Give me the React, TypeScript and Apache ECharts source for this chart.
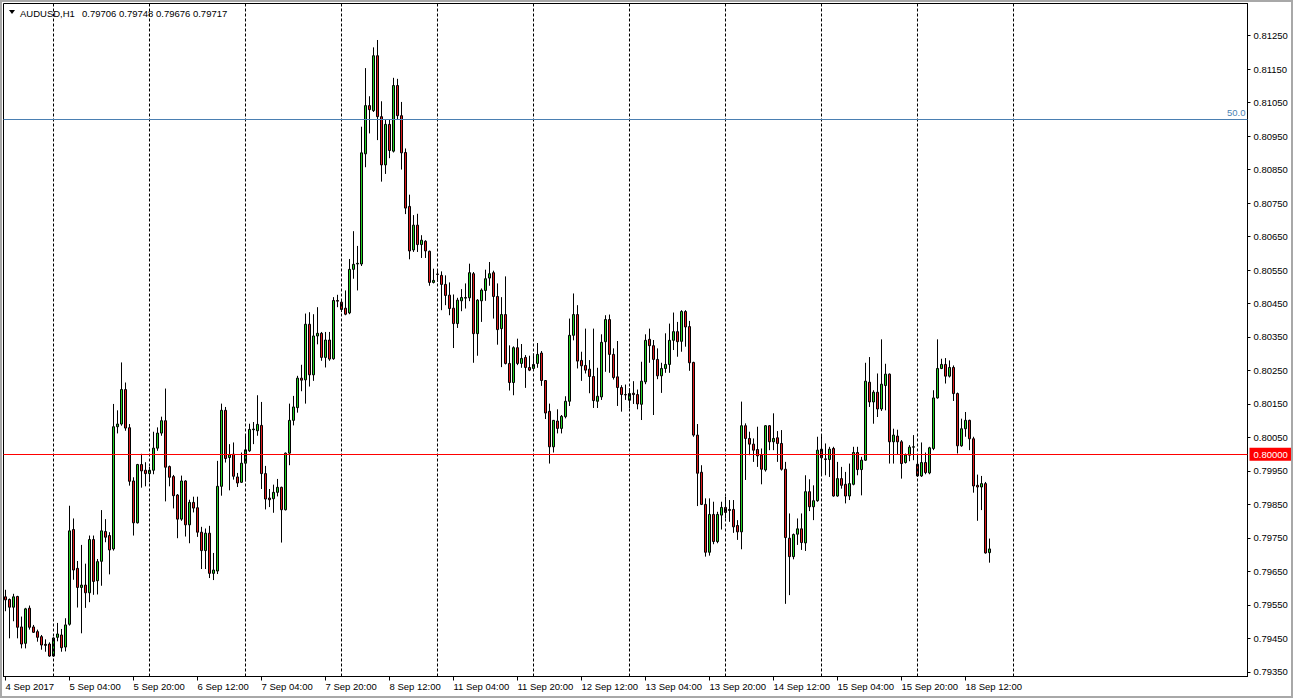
import React, { useEffect, useRef } from "react";
import * as echarts from "echarts";

const symbolName = "AUDUSD,H1";
const firstLabel = "4 Sep 2017";
const sessionDays = ["4 Sep", "5 Sep", "6 Sep", "7 Sep", "8 Sep", "11 Sep", "12 Sep", "13 Sep", "14 Sep", "15 Sep", "18 Sep", "19 Sep", "20 Sep", "21 Sep"];
const firstHour = 12;
const totalSlots = 311;
const labelEvery = 16;
const gridLines = ["5 Sep 00:00", "6 Sep 00:00", "7 Sep 00:00", "8 Sep 00:00", "11 Sep 00:00", "12 Sep 00:00", "13 Sep 00:00", "14 Sep 00:00", "15 Sep 00:00", "18 Sep 00:00", "19 Sep 00:00"];

const opens = [
  0.79574, 0.79566, 0.79543, 0.79575, 0.79484, 0.79435, 0.7954, 0.79484, 0.7947, 0.79455, 0.79432, 0.79433, 0.79397, 0.79453, 0.7946, 0.79424,
  0.79492, 0.79775, 0.79659, 0.79602, 0.79609, 0.79586, 0.79745, 0.79622, 0.7968, 0.79769, 0.79757, 0.79717, 0.80082, 0.8009, 0.80193, 0.80079,
  0.7992, 0.79795, 0.79969, 0.79952, 0.79942, 0.79952, 0.80018, 0.80063, 0.801, 0.79963, 0.79933, 0.79878, 0.79806, 0.7992, 0.79789, 0.79856,
  0.7984, 0.79767, 0.79712, 0.79764, 0.79644, 0.79651, 0.79904, 0.80131, 0.7999, 0.8, 0.79932, 0.79916, 0.79973, 0.8001, 0.80073, 0.8007,
  0.80086, 0.79942, 0.79869, 0.79867, 0.79886, 0.79901, 0.79834, 0.80003, 0.80101, 0.80139, 0.80227, 0.80222, 0.80388, 0.80237, 0.80353, 0.80361,
  0.80289, 0.80341, 0.80285, 0.80459, 0.80454, 0.80436, 0.80422, 0.80552, 0.80568, 0.80568, 0.80897, 0.81041, 0.81026, 0.8119, 0.81008, 0.80864,
  0.80985, 0.80905, 0.81101, 0.81011, 0.80901, 0.8074, 0.8061, 0.80684, 0.80626, 0.80636, 0.80606, 0.80513, 0.80538, 0.80534, 0.80507, 0.80475,
  0.80436, 0.8039, 0.80458, 0.80466, 0.80467, 0.80539, 0.8036, 0.80458, 0.80489, 0.80526, 0.80542, 0.80471, 0.80375, 0.80417, 0.80271, 0.80214,
  0.80318, 0.80271, 0.80289, 0.80259, 0.80256, 0.80271, 0.80302, 0.8022, 0.80128, 0.80022, 0.80099, 0.80077, 0.80112, 0.80158, 0.80355, 0.80417,
  0.8028, 0.80265, 0.80254, 0.80232, 0.80158, 0.80171, 0.80336, 0.80402, 0.80298, 0.80231, 0.80199, 0.80178, 0.80161, 0.80182, 0.80178, 0.80149,
  0.80216, 0.80343, 0.80324, 0.80283, 0.80234, 0.80256, 0.80268, 0.8034, 0.80366, 0.80337, 0.80426, 0.80381, 0.80274, 0.80057, 0.79946, 0.7985,
  0.79707, 0.7982, 0.79739, 0.79818, 0.79841, 0.79835, 0.79835, 0.79787, 0.79768, 0.80085, 0.80047, 0.8003, 0.80014, 0.79997, 0.79953, 0.80085,
  0.80037, 0.80049, 0.80032, 0.79955, 0.79749, 0.79694, 0.79761, 0.79777, 0.79735, 0.79888, 0.79843, 0.79861, 0.80015, 0.79986, 0.79984, 0.80017,
  0.79875, 0.79927, 0.7991, 0.79875, 0.7991, 0.80005, 0.79954, 0.79982, 0.80215, 0.80156, 0.80185, 0.80135, 0.80205, 0.80239, 0.80037, 0.80054,
  0.80037, 0.79975, 0.79997, 0.80021, 0.7997, 0.79935, 0.79975, 0.79944, 0.80017, 0.80168, 0.80256, 0.80268, 0.80233, 0.80259, 0.80181, 0.80025,
  0.80076, 0.80101, 0.80046, 0.79907, 0.79902, 0.79912, 0.79706
];
const highs = [
  0.79595, 0.79569, 0.79583, 0.79577, 0.79515, 0.79541, 0.79548, 0.7949, 0.79476, 0.7946, 0.79447, 0.79438, 0.79453, 0.79496, 0.79478, 0.7951,
  0.79846, 0.79808, 0.79681, 0.79729, 0.79673, 0.79757, 0.79757, 0.79687, 0.79833, 0.79806, 0.79767, 0.8015, 0.80131, 0.80274, 0.80214, 0.8009,
  0.79931, 0.79971, 0.80001, 0.79976, 0.79962, 0.80067, 0.8008, 0.80112, 0.80196, 0.79966, 0.79938, 0.79881, 0.79936, 0.79922, 0.79864, 0.79873,
  0.79873, 0.79783, 0.79778, 0.79786, 0.79705, 0.7998, 0.80151, 0.80141, 0.8003, 0.80035, 0.79944, 0.80005, 0.80055, 0.80091, 0.80096, 0.80176,
  0.80156, 0.79965, 0.79896, 0.79909, 0.79926, 0.79903, 0.80005, 0.80151, 0.80174, 0.80234, 0.80267, 0.8042, 0.80424, 0.80418, 0.80439, 0.80365,
  0.80365, 0.80365, 0.80469, 0.80476, 0.80459, 0.80489, 0.80583, 0.80666, 0.80622, 0.80978, 0.81153, 0.81069, 0.81215, 0.81237, 0.81054, 0.80998,
  0.80998, 0.81124, 0.81121, 0.81052, 0.80913, 0.80775, 0.80714, 0.80718, 0.80654, 0.80639, 0.80608, 0.80554, 0.80549, 0.80546, 0.80534, 0.80513,
  0.80477, 0.80467, 0.80493, 0.8051, 0.80569, 0.80544, 0.80463, 0.80495, 0.80551, 0.80574, 0.80548, 0.8051, 0.80469, 0.80531, 0.80325, 0.80322,
  0.80345, 0.80329, 0.80296, 0.80294, 0.80301, 0.80332, 0.80308, 0.80221, 0.80151, 0.80102, 0.80134, 0.80117, 0.80173, 0.80405, 0.8048, 0.80445,
  0.80306, 0.80375, 0.80281, 0.80375, 0.80258, 0.80358, 0.80415, 0.80417, 0.80316, 0.80338, 0.80206, 0.80208, 0.80197, 0.80218, 0.80193, 0.80276,
  0.80358, 0.80375, 0.80341, 0.80316, 0.80273, 0.80361, 0.8039, 0.80423, 0.80395, 0.8043, 0.8043, 0.80398, 0.80276, 0.8009, 0.79967, 0.79868,
  0.79868, 0.79858, 0.79828, 0.79858, 0.79873, 0.79863, 0.79863, 0.79803, 0.80157, 0.80092, 0.80067, 0.80047, 0.80082, 0.80017, 0.80087, 0.80087,
  0.80122, 0.80069, 0.80072, 0.79977, 0.79823, 0.79763, 0.79808, 0.79823, 0.79937, 0.79925, 0.79907, 0.80052, 0.80054, 0.80032, 0.80022, 0.80022,
  0.79977, 0.79962, 0.79947, 0.79972, 0.80022, 0.80022, 0.79992, 0.80273, 0.8029, 0.80191, 0.80241, 0.80343, 0.8027, 0.80241, 0.80076, 0.80073,
  0.80042, 0.80002, 0.80027, 0.80057, 0.79997, 0.80035, 0.80005, 0.80022, 0.80191, 0.80343, 0.80285, 0.80287, 0.8028, 0.80265, 0.80184, 0.80106,
  0.80126, 0.80103, 0.80052, 0.79939, 0.79935, 0.79917, 0.79748
];
const lows = [
  0.79531, 0.7945, 0.79501, 0.7945, 0.7942, 0.7942, 0.79476, 0.79466, 0.7944, 0.79416, 0.7941, 0.79395, 0.79395, 0.79441, 0.7941, 0.79411,
  0.79488, 0.79625, 0.79542, 0.79465, 0.79541, 0.79558, 0.7958, 0.79581, 0.79607, 0.79737, 0.79641, 0.79712, 0.80062, 0.80085, 0.8007, 0.79906,
  0.79757, 0.79793, 0.799, 0.79904, 0.79916, 0.7994, 0.8001, 0.80055, 0.79859, 0.79904, 0.79838, 0.79749, 0.79801, 0.79754, 0.79734, 0.79826,
  0.79753, 0.79657, 0.79657, 0.7963, 0.79624, 0.79642, 0.79876, 0.79975, 0.79892, 0.79924, 0.79902, 0.79914, 0.79919, 0.80007, 0.8003, 0.80055,
  0.79896, 0.79835, 0.79842, 0.79825, 0.79874, 0.79736, 0.79832, 0.79967, 0.80086, 0.80124, 0.80188, 0.80151, 0.80202, 0.80219, 0.80328, 0.80279,
  0.80259, 0.80279, 0.80282, 0.80439, 0.80424, 0.80415, 0.80418, 0.80524, 0.80489, 0.80562, 0.80857, 0.80958, 0.81022, 0.80938, 0.80814, 0.80837,
  0.80884, 0.80901, 0.80998, 0.8085, 0.80717, 0.80582, 0.80604, 0.80604, 0.80586, 0.80586, 0.80503, 0.8051, 0.80515, 0.8043, 0.80445, 0.80415,
  0.80317, 0.80377, 0.80427, 0.80435, 0.80457, 0.80273, 0.80294, 0.80395, 0.80458, 0.80503, 0.80405, 0.80327, 0.8026, 0.80268, 0.8019, 0.80176,
  0.80266, 0.80258, 0.80198, 0.80248, 0.80253, 0.80258, 0.80204, 0.80105, 0.79972, 0.80005, 0.80062, 0.80062, 0.80107, 0.80144, 0.8034, 0.80256,
  0.80219, 0.80241, 0.80182, 0.80138, 0.80138, 0.80162, 0.80246, 0.80243, 0.80223, 0.80144, 0.80127, 0.80162, 0.80137, 0.8015, 0.80134, 0.80102,
  0.80209, 0.80273, 0.80117, 0.80224, 0.80183, 0.80243, 0.80243, 0.80311, 0.80291, 0.80306, 0.80321, 0.80249, 0.80052, 0.79845, 0.79848, 0.79694,
  0.79697, 0.79731, 0.79734, 0.79775, 0.79808, 0.79798, 0.79765, 0.79744, 0.79716, 0.79923, 0.79997, 0.79977, 0.79962, 0.7991, 0.79948, 0.80012,
  0.80012, 0.79977, 0.79951, 0.79553, 0.79579, 0.79686, 0.79729, 0.79714, 0.79711, 0.7983, 0.79803, 0.79858, 0.79939, 0.79937, 0.79932, 0.79873,
  0.79873, 0.79897, 0.79853, 0.79863, 0.79907, 0.79937, 0.79877, 0.7998, 0.80141, 0.80091, 0.80111, 0.80129, 0.80131, 0.79972, 0.79972, 0.79999,
  0.79927, 0.79972, 0.79979, 0.79982, 0.79932, 0.79932, 0.7994, 0.7994, 0.80012, 0.80166, 0.80254, 0.80211, 0.80229, 0.80159, 0.80002, 0.80022,
  0.80052, 0.80012, 0.79885, 0.79801, 0.79833, 0.79703, 0.79676
];
const closes = [
  0.79565, 0.79543, 0.79574, 0.79483, 0.79433, 0.79538, 0.79483, 0.79468, 0.79453, 0.7943, 0.79429, 0.79397, 0.79451, 0.79463, 0.79422, 0.7949,
  0.79771, 0.79654, 0.79602, 0.79609, 0.79586, 0.79745, 0.7962, 0.79679, 0.79771, 0.79752, 0.79714, 0.80082, 0.8009, 0.80193, 0.80078, 0.79919,
  0.79795, 0.79969, 0.7995, 0.79942, 0.79952, 0.80018, 0.80063, 0.801, 0.79961, 0.79931, 0.79876, 0.79806, 0.7992, 0.79789, 0.79856, 0.79839,
  0.79767, 0.79712, 0.79764, 0.79644, 0.79654, 0.79904, 0.80131, 0.79987, 0.79998, 0.79934, 0.79914, 0.79973, 0.80013, 0.80074, 0.80075, 0.80089,
  0.79942, 0.79866, 0.79864, 0.79886, 0.79901, 0.79834, 0.80003, 0.80101, 0.80141, 0.80227, 0.80221, 0.80388, 0.80237, 0.80353, 0.80361, 0.80289,
  0.80341, 0.80284, 0.80459, 0.80457, 0.80432, 0.80418, 0.80552, 0.80567, 0.8057, 0.809, 0.81041, 0.81029, 0.8119, 0.81008, 0.80864, 0.80985,
  0.80907, 0.81101, 0.81011, 0.809, 0.80735, 0.80607, 0.80684, 0.80626, 0.80639, 0.80607, 0.80513, 0.80519, 0.80537, 0.80507, 0.80474, 0.80435,
  0.8039, 0.8046, 0.80468, 0.80468, 0.80542, 0.8036, 0.8046, 0.8049, 0.80524, 0.80539, 0.80471, 0.80372, 0.80417, 0.80271, 0.80214, 0.80318,
  0.80271, 0.80286, 0.80259, 0.80251, 0.80268, 0.80298, 0.8022, 0.80123, 0.80022, 0.80101, 0.80077, 0.80113, 0.80158, 0.80355, 0.80417, 0.80278,
  0.80264, 0.80251, 0.80232, 0.8016, 0.80173, 0.80334, 0.80402, 0.80298, 0.80229, 0.80199, 0.80178, 0.80177, 0.80181, 0.80178, 0.8015, 0.80218,
  0.8034, 0.80324, 0.80283, 0.80234, 0.80256, 0.80268, 0.8034, 0.80366, 0.80336, 0.80426, 0.8038, 0.80273, 0.80057, 0.79943, 0.7985, 0.79707,
  0.7982, 0.79739, 0.7982, 0.79841, 0.79826, 0.79832, 0.79783, 0.79768, 0.80085, 0.80047, 0.8003, 0.80012, 0.79995, 0.79955, 0.80085, 0.80037,
  0.80047, 0.80032, 0.79955, 0.79751, 0.79694, 0.7976, 0.79777, 0.79736, 0.79888, 0.79843, 0.79861, 0.80012, 0.79989, 0.79984, 0.80015, 0.79875,
  0.79927, 0.79907, 0.79875, 0.79912, 0.80005, 0.79954, 0.79982, 0.80218, 0.80156, 0.80185, 0.80135, 0.80209, 0.80239, 0.80037, 0.80057, 0.80037,
  0.79972, 0.79997, 0.80021, 0.80022, 0.79935, 0.79975, 0.79945, 0.80019, 0.80168, 0.80256, 0.80268, 0.80233, 0.80259, 0.80181, 0.80025, 0.80076,
  0.80101, 0.80046, 0.79905, 0.79902, 0.79912, 0.79705, 0.79717
];

const yTickValues = [0.7935, 0.7945, 0.7955, 0.7965, 0.7975, 0.7985, 0.7995, 0.8005, 0.8015, 0.8025, 0.8035, 0.8045, 0.8055, 0.8065, 0.8075, 0.8085, 0.8095, 0.8105, 0.8115, 0.8125];
const yMin = 0.79336;
const yMax = 0.81346;
const levelLine = 0.8;
const fibLevel = 0.8099;
const fibLabel = "50.0";

const FONT = "'Liberation Sans', Arial, sans-serif";
const BULL = "#22d022";
const BEAR = "#dd1a1a";

const categories: string[] = [];
sessionDays.forEach((d, di) => {
  for (let h = di === 0 ? firstHour : 0; h < 24; h++) {
    categories.push(`${d} ${String(h).padStart(2, "0")}:00`);
  }
});
const slots = categories.slice(0, totalSlots);
const barCount = opens.length;
const showTick = (index: number) => index % labelEvery === 0 && index < barCount;

export default function App() {
  const ref = useRef<HTMLDivElement>(null);

  useEffect(() => {
    if (!ref.current) return;
    const chart = echarts.init(ref.current, undefined, { renderer: "svg" });
    const last = barCount - 1;
    const header = [opens[last], highs[last], lows[last], closes[last]].map((v) => v.toFixed(5)).join(" ");
    const candleData = opens.map((o, i) => [o, closes[i], lows[i], highs[i]]);

    chart.setOption({
      animation: false,
      backgroundColor: "#ffffff",
      textStyle: { fontFamily: FONT },
      grid: {
        left: 3.5,
        right: 45.5,
        top: 3.5,
        bottom: 21.5,
        show: true,
        borderColor: "#000",
        borderWidth: 1,
        backgroundColor: "#fff",
      },
      xAxis: {
        type: "category",
        data: slots,
        boundaryGap: true,
        axisLine: { show: true, lineStyle: { color: "#000", width: 1 } },
        axisTick: {
          show: true,
          alignWithLabel: true,
          interval: (index: number) => showTick(index),
          length: 4,
          lineStyle: { color: "#000" },
        },
        axisLabel: {
          interval: (index: number) => showTick(index),
          formatter: (v: string, i: number) => (i === 0 ? firstLabel : v),
          align: "left",
          margin: 5,
          color: "#000",
          fontSize: 9.5,
          fontFamily: FONT,
        },
        splitLine: { show: false },
      },
      yAxis: {
        type: "value",
        position: "right",
        min: yMin,
        max: yMax,
        scale: true,
        splitLine: { show: false },
        axisLine: { show: true, lineStyle: { color: "#000", width: 1 } },
        axisTick: { show: true, customValues: yTickValues, length: 3, lineStyle: { color: "#000" } },
        axisLabel: {
          customValues: yTickValues,
          formatter: (v: number) => v.toFixed(5),
          color: "#000",
          fontSize: 9.5,
          margin: 6,
          fontFamily: FONT,
        },
      },
      series: [
        {
          type: "line",
          data: [],
          z: 1,
          silent: true,
          markLine: {
            silent: true,
            symbol: ["none", "none"],
            animation: false,
            data: [
              ...gridLines.map((c) => ({
                xAxis: c,
                lineStyle: { color: "#000", type: [3, 2], width: 1 },
                label: { show: false },
              })),
              {
                yAxis: fibLevel,
                lineStyle: { color: "#4a7fb2", type: "solid", width: 1 },
                label: {
                  show: true,
                  position: "insideEndTop",
                  formatter: fibLabel,
                  color: "#4a7fb2",
                  fontSize: 9.5,
                  fontFamily: FONT,
                  distance: 2,
                },
              },
              {
                yAxis: levelLine,
                lineStyle: { color: "#ff0000", type: "solid", width: 1 },
                label: {
                  show: true,
                  position: "end",
                  formatter: levelLine.toFixed(5),
                  color: "#fff",
                  backgroundColor: "#ff0000",
                  padding: [2, 4, 1, 4],
                  fontSize: 9.5,
                  fontFamily: FONT,
                  distance: 2,
                },
              },
              {
                yAxis: closes[last],
                lineStyle: { opacity: 0, width: 0 },
                label: {
                  show: true,
                  position: "end",
                  formatter: closes[last].toFixed(5),
                  color: "#fff",
                  backgroundColor: "#000",
                  padding: [2, 4, 1, 4],
                  fontSize: 9.5,
                  fontFamily: FONT,
                  distance: 2,
                },
              },
            ],
          },
        },
        {
          type: "candlestick",
          data: candleData,
          barWidth: 2,
          z: 3,
          itemStyle: {
            color: BULL,
            color0: BEAR,
            borderColor: "#000",
            borderColor0: "#000",
            borderColorDoji: "#000",
            borderWidth: 1,
          },
        },
      ],
      graphic: [
        {
          type: "rect",
          shape: { x: 1, y: 1, width: 1291, height: 696 },
          style: { fill: "none", stroke: "#a8a8a8", lineWidth: 2 },
          silent: true,
          z: 10,
        },
        {
          type: "polygon",
          shape: { points: [[9, 10], [15, 10], [12, 14]] },
          style: { fill: "#000" },
          silent: true,
          z: 10,
        },
        {
          type: "text",
          x: 20,
          y: 8,
          style: { text: symbolName, fill: "#000", font: `9.5px ${FONT}` },
          silent: true,
          z: 10,
        },
        {
          type: "text",
          x: 82,
          y: 8,
          style: { text: header, fill: "#000", font: `9.5px ${FONT}` },
          silent: true,
          z: 10,
        },
      ],
    });

    return () => chart.dispose();
  }, []);

  return (
    <div
      ref={ref}
      style={{ position: "fixed", left: 0, top: 0, width: 1293, height: 698, background: "#fff" }}
    />
  );
}
